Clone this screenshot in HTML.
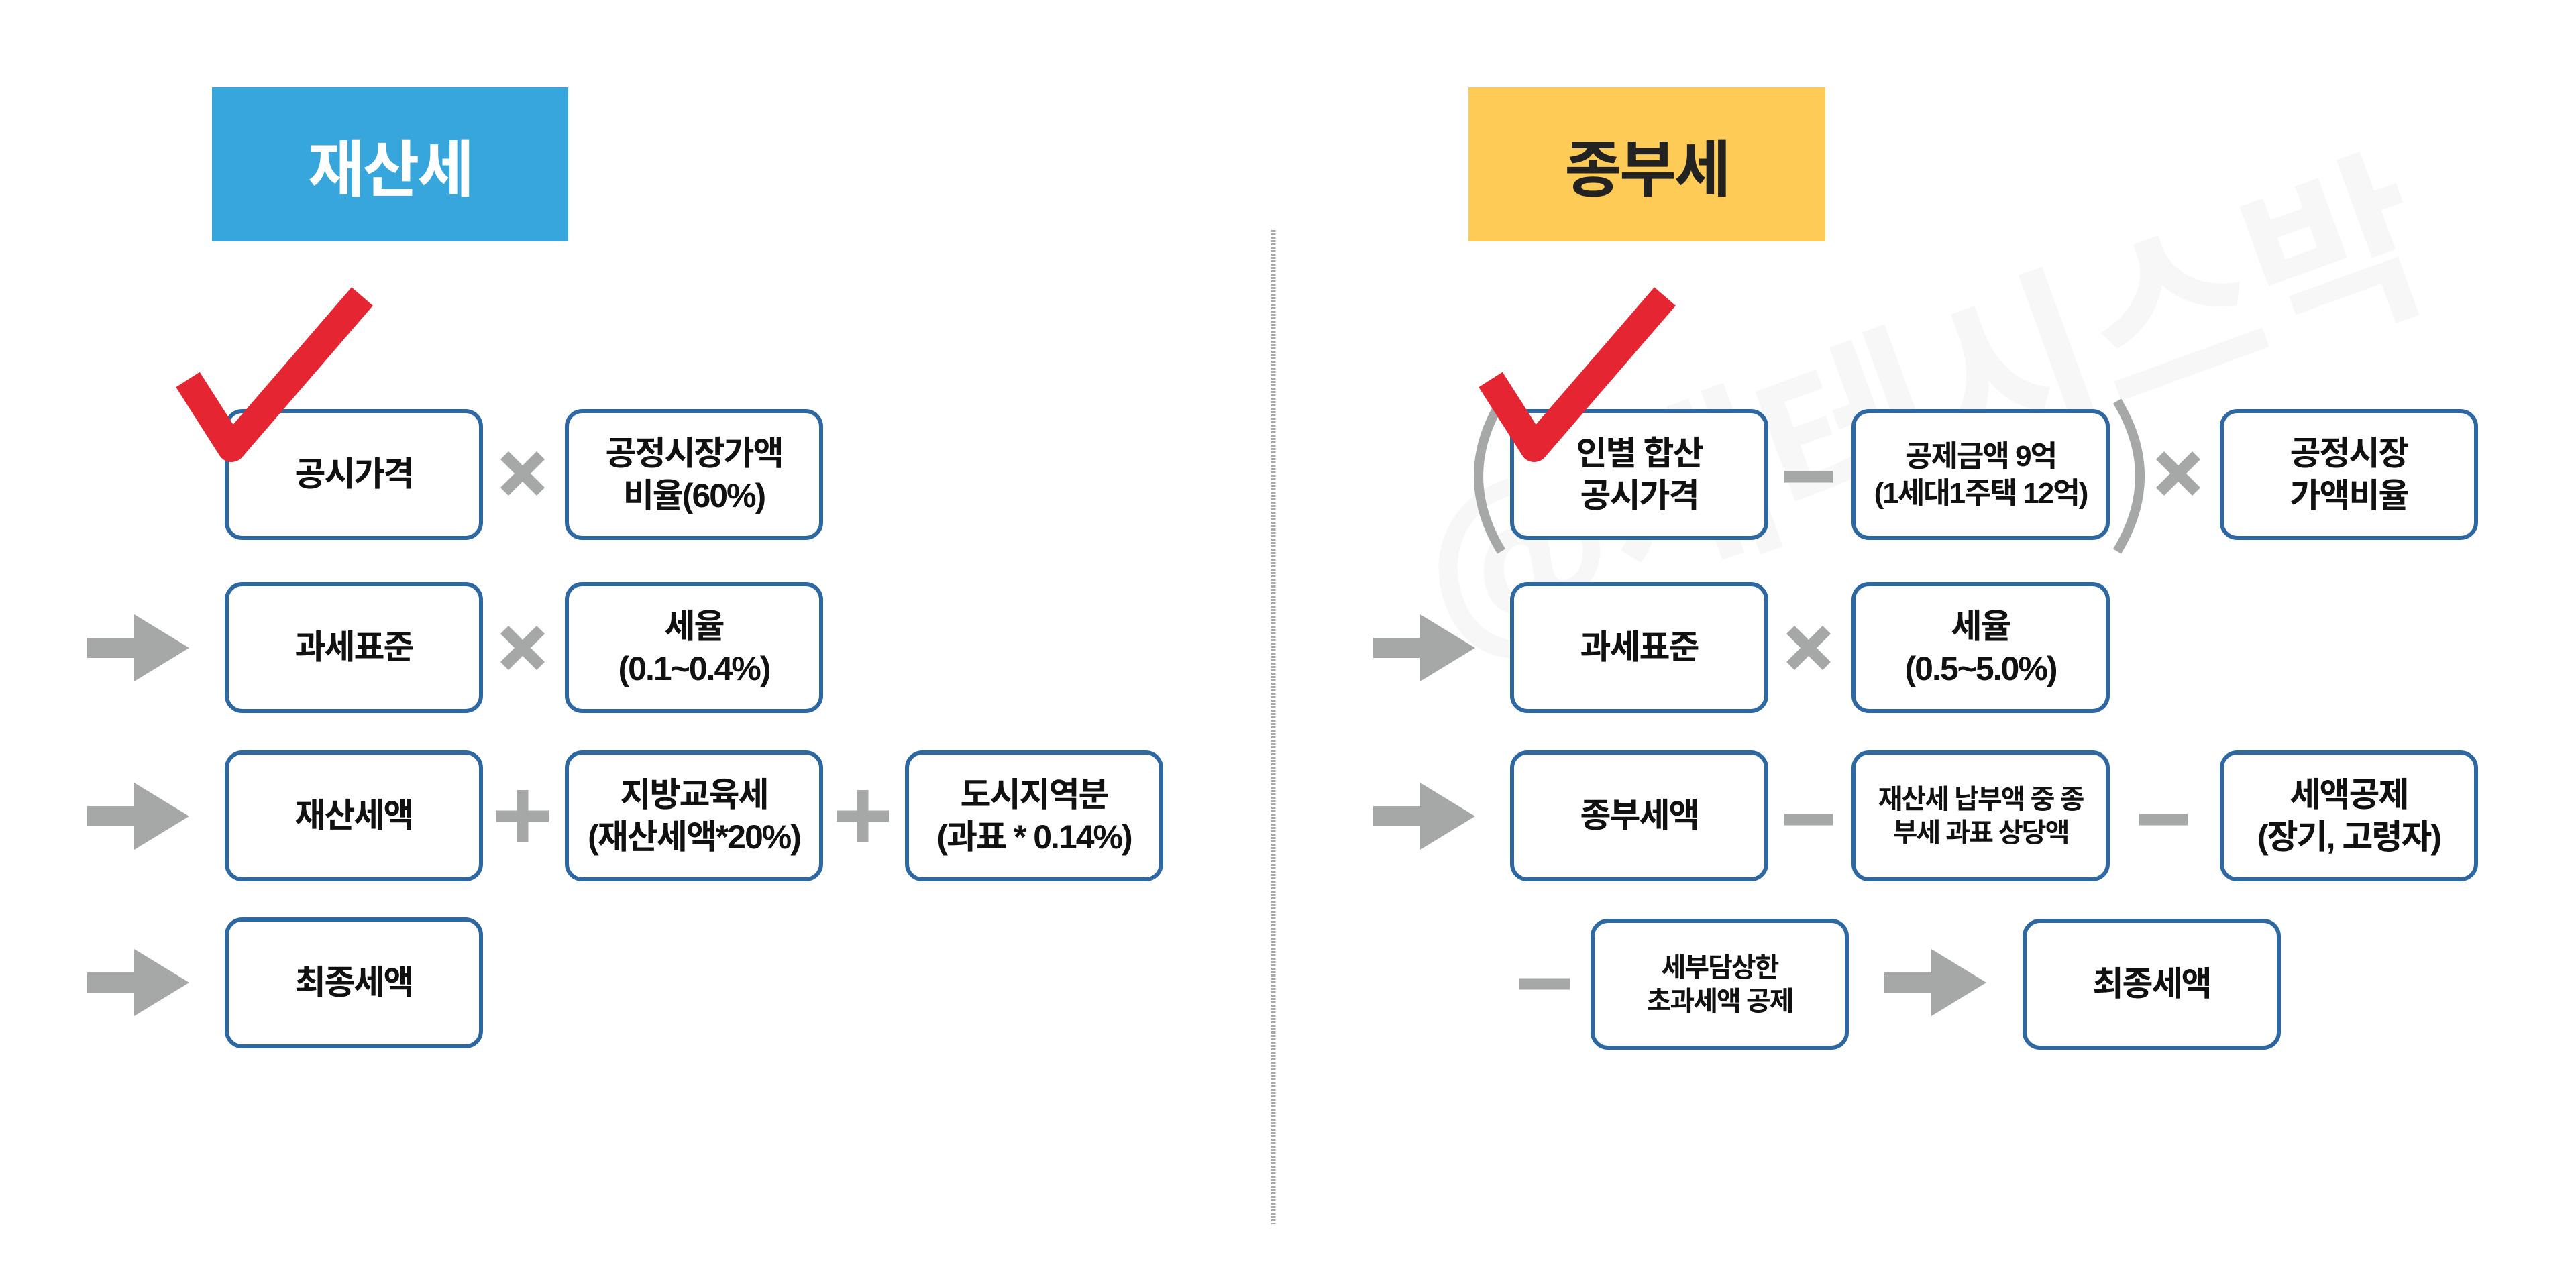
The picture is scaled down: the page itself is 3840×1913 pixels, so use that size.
<!DOCTYPE html>
<html><head><meta charset="utf-8"><style>
html,body{margin:0;padding:0;background:#fff;}
body{width:3840px;height:1913px;position:relative;overflow:hidden;font-family:"Liberation Sans","Noto Sans CJK KR",sans-serif;}
.b{position:absolute;box-sizing:border-box;width:385px;height:195px;border:6px solid #2d68a3;border-radius:26px;background:#fff;display:flex;align-items:center;justify-content:center;text-align:center;font-weight:bold;font-size:50px;line-height:1.25;color:#111;letter-spacing:-2px;}
.s{font-size:40px;}
.h{position:absolute;display:flex;align-items:center;justify-content:center;font-weight:bold;font-size:92px;letter-spacing:-3px;}
svg{position:absolute;left:0;top:0;}
</style></head><body>
<div class="h" style="left:316px;top:130px;width:531px;height:230px;background:#37a6dc;color:#fff;">재산세</div>
<div class="h" style="left:2189px;top:130px;width:532px;height:230px;background:#fecb57;color:#222;">종부세</div>

<svg width="3840" height="1913">
<defs><g id="ar"><rect x="130" y="691" width="75" height="30"/><polygon points="200,656 282,706 200,756"/></g></defs>
<text x="2900" y="700" font-size="280" font-weight="bold" fill="#f7f7f7" font-family="Noto Sans CJK KR" transform="rotate(-20 2900 700)" text-anchor="middle">@재테시스박</text>
<line x1="1898" y1="343" x2="1898" y2="1825" stroke="#a9a9a9" stroke-width="7" stroke-dasharray="3 2"/>
<g fill="#a6a8a8">
<use href="#ar" y="260"/><use href="#ar" y="511"/><use href="#ar" y="759"/>
<use href="#ar" x="1917" y="260"/><use href="#ar" x="1917" y="511"/><use href="#ar" x="2679" y="759"/>
</g>
<g stroke="#a6a8a8" stroke-width="17">
<path d="M752 679L806 733M806 679L752 733"/>
<path d="M752 939L806 993M806 939L752 993"/>
<path d="M779 1178V1256M740 1217H818"/>
<path d="M1286 1178V1256M1247 1217H1325"/>
<path d="M2669 939L2723 993M2723 939L2669 993"/>
<path d="M3220 679L3274 733M3274 679L3220 733"/>
<path d="M2660 711H2732"/>
<path d="M2660 1222H2732"/>
<path d="M3189 1222H3261"/>
<path d="M2264 1467H2340"/>
</g>
<g fill="none" stroke="#a6a8a8" stroke-width="14">
<path d="M2238 598Q2170 710 2238 822"/>
<path d="M3156 598Q3224 710 3156 822"/>
</g>
</svg>

<div class="b" style="left:335px;top:610px;">공시가격</div>
<div class="b" style="left:842px;top:610px;">공정시장가액<br>비율(60%)</div>
<div class="b" style="left:335px;top:868px;">과세표준</div>
<div class="b" style="left:842px;top:868px;">세율<br>(0.1~0.4%)</div>
<div class="b" style="left:335px;top:1119px;">재산세액</div>
<div class="b" style="left:842px;top:1119px;">지방교육세<br>(재산세액*20%)</div>
<div class="b" style="left:1349px;top:1119px;">도시지역분<br>(과표 * 0.14%)</div>
<div class="b" style="left:335px;top:1368px;">최종세액</div>

<div class="b" style="left:2251px;top:610px;">인별 합산<br>공시가격</div>
<div class="b" style="left:2760px;top:610px;font-size:44px;">공제금액 9억<br>(1세대1주택 12억)</div>
<div class="b" style="left:3309px;top:610px;">공정시장<br>가액비율</div>
<div class="b" style="left:2251px;top:868px;">과세표준</div>
<div class="b" style="left:2760px;top:868px;">세율<br>(0.5~5.0%)</div>
<div class="b" style="left:2251px;top:1119px;">종부세액</div>
<div class="b s" style="left:2760px;top:1119px;">재산세 납부액 중 종<br>부세 과표 상당액</div>
<div class="b" style="left:3309px;top:1119px;">세액공제<br>(장기, 고령자)</div>
<div class="b s" style="left:2371px;top:1370px;">세부담상한<br>초과세액 공제</div>
<div class="b" style="left:3015px;top:1370px;">최종세액</div>

<svg width="3840" height="1913">
<g fill="none" stroke="#e52532" stroke-width="42" stroke-linejoin="round">
<polyline points="280,566 345,668 540,442"/>
<polyline points="2222,566 2287,668 2482,442"/>
</g>
</svg>
</body></html>
